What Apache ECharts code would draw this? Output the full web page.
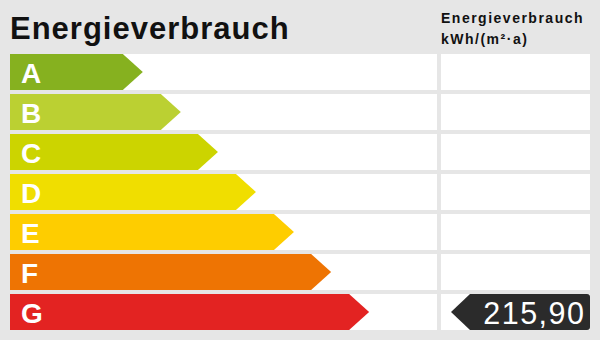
<!DOCTYPE html>
<html><head><meta charset="utf-8">
<script src="https://cdn.jsdelivr.net/npm/echarts@6/dist/echarts.min.js"></script>
<style>
html,body{margin:0;padding:0;background:#e6e6e6;}
#main{width:600px;height:340px;}
#main text{letter-spacing:1.5px;}
#main text[style*="31px"]{letter-spacing:1px;}
</style></head><body><div id="main"></div>
<script>
const classes = ['A','B','C','D','E','F','G'];
const classLength = [31.1, 40.0, 48.7, 57.6, 66.5, 75.2, 84.1];
const classColors = ['#86b11f','#bbd032','#ccd400','#f0de00','#fecd00','#ee7403','#e32322'];
const titleText = 'Energieverbrauch';
const headerLines = ['Energieverbrauch', 'kWh/(m²·a)'];
const energyValue = 215.90;
const energyClass = 'G';

const chart = echarts.init(document.getElementById('main'), null, {renderer: 'svg'});
const ROW_H = 36, HEAD = 20;

function barItem(params, api) {
  const idx = api.value(1);
  const len = api.value(0);
  const s = api.coord([0, idx]);
  const e = api.coord([len, idx]);
  const f = api.coord([100, idx]);
  const yc = s[1], y0 = yc - ROW_H / 2, y1 = yc + ROW_H / 2;
  return {type: 'group', children: [
    {type: 'rect', shape: {x: s[0], y: y0, width: f[0] - s[0], height: ROW_H}, style: {fill: '#ffffff'}},
    {type: 'polygon', shape: {points: [[s[0], y0], [e[0] - HEAD, y0], [e[0], yc], [e[0] - HEAD, y1], [s[0], y1]]},
      style: {fill: classColors[params.dataIndex]}},
    {type: 'text', style: {text: classes[params.dataIndex], x: s[0] + 11, y: yc + 1, fill: '#ffffff',
      font: 'bold 28px "Liberation Sans", Arial, sans-serif', align: 'left', verticalAlign: 'middle'}}
  ]};
}

function valueItem(params, api) {
  const idx = api.value(1);
  const s = api.coord([0, idx]);
  const f = api.coord([1, idx]);
  const yc = s[1], y0 = yc - ROW_H / 2, y1 = yc + ROW_H / 2;
  const children = [
    {type: 'rect', shape: {x: s[0], y: y0, width: f[0] - s[0], height: ROW_H}, style: {fill: '#ffffff'}}
  ];
  if (classes[idx] === energyClass) {
    const tip = s[0] + 10;
    const r = 3;
    children.push({type: 'path', shape: {pathData:
      'M' + tip + ' ' + yc + ' L' + (tip + 19) + ' ' + y0 + ' L' + (f[0] - r) + ' ' + y0 +
      ' Q' + f[0] + ' ' + y0 + ' ' + f[0] + ' ' + (y0 + r) + ' L' + f[0] + ' ' + (y1 - r) +
      ' Q' + f[0] + ' ' + y1 + ' ' + (f[0] - r) + ' ' + y1 + ' L' + (tip + 19) + ' ' + y1 + ' Z'},
      style: {fill: '#2b2b2b'}});
    children.push({type: 'text', style: {text: energyValue.toFixed(2).replace('.', ','), x: f[0] - 4.5, y: yc + 1,
      fill: '#ffffff', font: '30.5px "Liberation Sans", Arial, sans-serif', align: 'right', verticalAlign: 'middle'}});
  }
  return {type: 'group', children: children};
}

chart.setOption({
  backgroundColor: '#e6e6e6',
  animation: false,
  grid: [
    {left: 10, top: 52, width: 427, height: 280},
    {left: 441, top: 52, width: 149, height: 280}
  ],
  xAxis: [
    {type: 'value', gridIndex: 0, min: 0, max: 100, show: false},
    {type: 'value', gridIndex: 1, min: 0, max: 1, show: false}
  ],
  yAxis: [
    {type: 'category', gridIndex: 0, data: classes, inverse: true, show: false},
    {type: 'category', gridIndex: 1, data: classes, inverse: true, show: false}
  ],
  graphic: [
    {type: 'text', x: 10, y: 28, style: {text: titleText, fill: '#111111',
      font: 'bold 31px "Liberation Sans", Arial, sans-serif', verticalAlign: 'middle'}},
    {type: 'text', x: 441, y: 18, style: {text: headerLines[0], fill: '#111111',
      font: 'bold 14px "Liberation Sans", Arial, sans-serif', verticalAlign: 'middle'}},
    {type: 'text', x: 441, y: 39, style: {text: headerLines[1], fill: '#111111',
      font: 'bold 14px "Liberation Sans", Arial, sans-serif', verticalAlign: 'middle'}}
  ],
  series: [
    {type: 'custom', xAxisIndex: 0, yAxisIndex: 0, renderItem: barItem,
      data: classes.map((c, i) => [classLength[i], i])},
    {type: 'custom', xAxisIndex: 1, yAxisIndex: 1, renderItem: valueItem,
      data: classes.map((c, i) => [1, i])}
  ]
});
</script></body></html>
